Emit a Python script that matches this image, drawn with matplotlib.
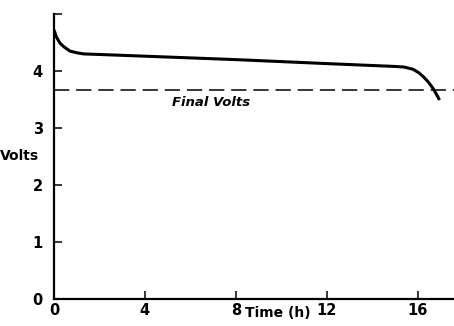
import matplotlib
matplotlib.use("Agg")
import matplotlib.pyplot as plt

# Data
time_h = [0.0, 0.1, 0.26, 0.45, 0.7, 1.0, 1.3, 2.0, 4.0, 8.0, 12.0, 15.0, 15.4,
          15.8, 16.05, 16.25, 16.42, 16.56, 16.7, 16.8, 16.9, 16.96]
volts = [4.72, 4.60, 4.49, 4.42, 4.35, 4.32, 4.30, 4.29, 4.26, 4.20, 4.13, 4.08, 4.07,
         4.03, 3.97, 3.90, 3.83, 3.76, 3.68, 3.61, 3.54, 3.49]
final_volts = 3.67
x_ticks = [0, 4, 8, 12, 16]
y_ticks = [0, 1, 2, 3, 4, 5]
y_tick_labels = ['0', '1', '2', '3', '4', '']

fig = plt.figure(figsize=(4.54, 3.26), dpi=100)
ax = fig.add_axes([0.119, 0.083, 0.881, 0.874])

ax.plot(time_h, volts, color='black', lw=2.2, solid_capstyle='butt')
ax.axhline(final_volts, color='black', lw=1.1, dashes=(10, 4.5))
ax.text(6.9, 3.45, 'Final Volts', fontsize=9.5, fontweight='bold', fontstyle='italic',
        ha='center', va='center')

ax.set_xlim(0, 17.6)
ax.set_ylim(0, 5.0)
ax.set_xticks(x_ticks)
ax.set_yticks(y_ticks)
ax.set_yticklabels(y_tick_labels)

for s in ['top', 'right']:
    ax.spines[s].set_visible(False)
for s in ['left', 'bottom']:
    ax.spines[s].set_linewidth(1.6)

ax.tick_params(axis='both', direction='in', length=6, width=1.1, labelsize=10.5)
ax.tick_params(axis='x', pad=3)
ax.tick_params(axis='y', pad=8)
for lab in ax.get_xticklabels() + ax.get_yticklabels():
    lab.set_fontweight('bold')

ax.set_xlabel('Time (h)', fontsize=10, fontweight='bold')
ax.xaxis.set_label_coords(0.56, -0.025)
ax.set_ylabel('Volts', fontsize=10, fontweight='bold', rotation=0, ha='left', va='center')
ax.yaxis.set_label_coords(-0.134, 0.5)

fig.savefig('out.png', dpi=100)
